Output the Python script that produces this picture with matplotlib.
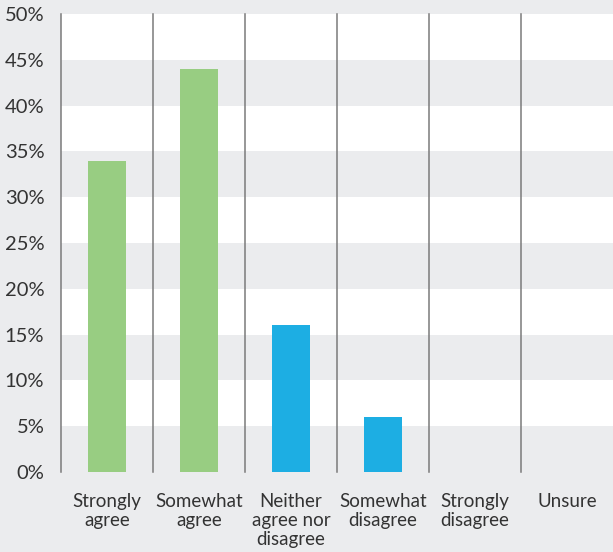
import numpy as np
import matplotlib.pyplot as plt

plt.rcParams['font.family'] = ['Lato', 'DejaVu Sans']

categories = ["Strongly\nagree", "Somewhat\nagree", "Neither\nagree nor\ndisagree",
              "Somewhat\ndisagree", "Strongly\ndisagree", "Unsure"]
values = [34, 44, 16, 6, 0, 0]
colors = ["#98cd82", "#98cd82", "#1daee3", "#1daee3", "#1daee3", "#1daee3"]
yticks = list(range(0, 51, 5))

bg = "#ebecee"
fig = plt.figure(figsize=(6.13, 5.52), dpi=100, facecolor=bg)
ax = fig.add_axes([61 / 613, 80 / 552, 1 - 61 / 613, 458 / 552])
ax.set_facecolor("white")

# alternating horizontal bands
for lo in range(0, 50, 10):
    ax.axhspan(lo, lo + 5, color=bg, lw=0, zorder=0)

x = np.arange(len(categories))
ax.bar(x, values, width=0.42, color=colors, zorder=2)

# separators between categories
for b in np.arange(-0.5, len(categories) - 1, 1.0):
    ax.plot([b, b], [0, 50], color="#7a7a7a", lw=1.1, zorder=3, clip_on=False)

ax.set_xlim(-0.5, len(categories) - 0.5)
ax.set_ylim(0, 50)
ax.set_yticks(yticks)
ax.set_yticklabels([f"{t}%" for t in yticks], fontsize=14.5, color="#333333")
ax.set_xticks(x)
ax.set_xticklabels(categories, fontsize=13.5, color="#333333", linespacing=1.15, va="top")
ax.tick_params(axis="both", length=0)
ax.tick_params(axis="x", pad=15)
ax.tick_params(axis="y", pad=12)
for s in ax.spines.values():
    s.set_visible(False)

fig.savefig("out.png", dpi=100, facecolor=bg)
